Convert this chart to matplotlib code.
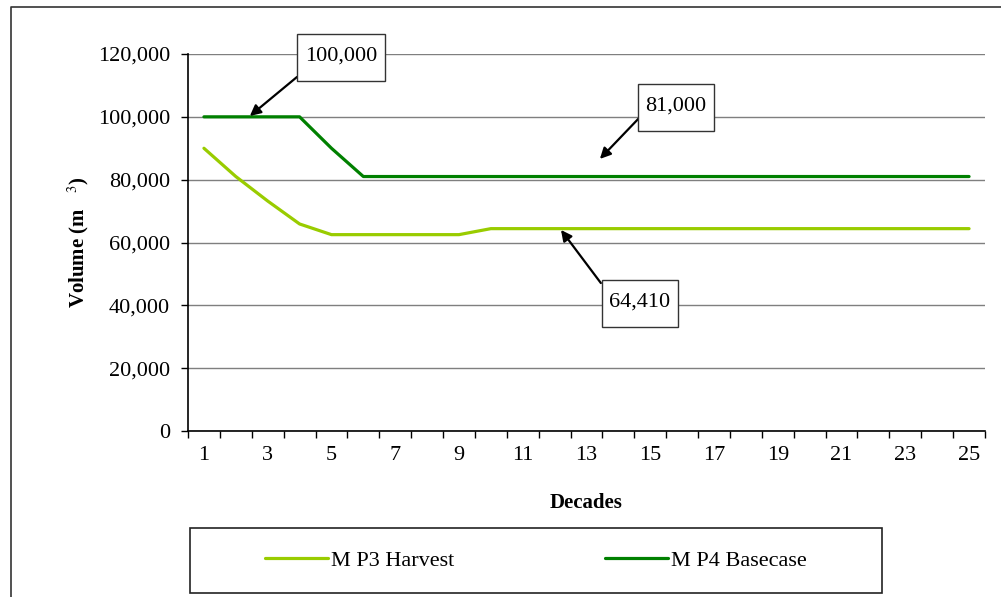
import matplotlib.pyplot as plt
from matplotlib.lines import Line2D
from matplotlib.patches import Rectangle
from matplotlib.path import Path
from matplotlib.ticker import FuncFormatter, MultipleLocator

plt.rcParams['font.family'] = ['Liberation Serif', 'DejaVu Serif']
plt.rcParams['mathtext.fontset'] = 'stix'

decades = list(range(1, 26))
mp3_harvest = [90000, 81000, 73200, 65900, 62500, 62500, 62500, 62500, 62500] + [64410] * 16
mp4_basecase = [100000, 100000, 100000, 100000, 90000] + [81000] * 20

# callouts: label, arrow tip (x, y), arrow tail (x, y), box centre (x, y)
callouts = [
    ('100,000', (2.44, 100270), (3.92, 112700), (5.30, 119300)),
    ('81,000', (13.42, 86600), (14.68, 99950), (15.81, 103500)),
    ('64,410', (12.20, 64000), (13.45, 47100), (14.68, 41200)),
]


def callout_box(x0, y0, width, height, mutation_size):
    # plain rectangle, a bit taller than the text
    padx = 0.35 * mutation_size
    top = 0.55 * mutation_size
    bottom = 0.7 * mutation_size
    x1, y1 = x0 + width + padx, y0 + height + top
    x0, y0 = x0 - padx, y0 - bottom
    return Path([(x0, y0), (x1, y0), (x1, y1), (x0, y1), (x0, y0)], closed=True)


fig = plt.figure(figsize=(10.01, 5.97), dpi=100)
ax = fig.add_axes([188 / 1001, 1 - 431 / 597, 797 / 1001, 377 / 597])

ax.plot(decades, mp3_harvest, color='#99cc00', lw=2.3, solid_capstyle='round',
        label='M P3 Harvest', zorder=3)
ax.plot(decades, mp4_basecase, color='#008000', lw=2.3, solid_capstyle='round',
        label='M P4 Basecase', zorder=3)

ax.set_xlim(0.5, 25.5)
ax.set_ylim(0, 120000)
ax.yaxis.set_major_locator(MultipleLocator(20000))
ax.yaxis.set_major_formatter(FuncFormatter(lambda v, p: f'{int(v):,}'))
ax.set_xticks(decades[::2])
ax.xaxis.set_minor_locator(MultipleLocator(1, offset=0.5))
ax.tick_params(axis='x', which='major', length=0, labelsize=16, pad=11)
ax.tick_params(axis='x', which='minor', length=5, width=1, direction='out')
ax.tick_params(axis='y', length=5, width=1, direction='out', labelsize=16, pad=8)

ax.grid(axis='y', color='#7f7f7f', lw=1)
ax.get_ygridlines()[-1].set_color('#e4e4e4')
ax.set_axisbelow(True)
for side in ('top', 'right'):
    ax.spines[side].set_visible(False)
for side in ('left', 'bottom'):
    ax.spines[side].set_linewidth(1.2)

ax.set_xlabel('Decades', fontsize=15, fontweight='bold', labelpad=20)
ax.set_ylabel('Volume (m   $^{3}$)', fontsize=15, fontweight='bold', labelpad=5)

for label, tip, tail, centre in callouts:
    ax.annotate('', xy=tip, xytext=tail,
                arrowprops=dict(arrowstyle='-|>', color='black', lw=1.6,
                                mutation_scale=16, shrinkA=0, shrinkB=0),
                annotation_clip=False, zorder=5)
    ax.text(centre[0], centre[1], label, fontsize=16, ha='center', va='center',
            zorder=6, clip_on=False,
            bbox=dict(boxstyle=callout_box, fc='white', ec='#333333', lw=1))

# outer chart frame
fig.add_artist(Line2D([11 / 1001, 11 / 1001, 1.0], [0.0, 1 - 7 / 597, 1 - 7 / 597],
                      color='#333333', lw=1.2))

# legend box
fig.add_artist(Rectangle((190 / 1001, 1 - 593 / 597), 692 / 1001, 65 / 597,
                         fill=False, ec='#222222', lw=1.2))
fig.legend(loc='center', bbox_to_anchor=(536 / 1001, 1 - 560.5 / 597), ncol=2,
           frameon=False, fontsize=16, handlelength=2.8, handletextpad=0.15,
           columnspacing=6.8)

fig.savefig('out.png', dpi=100)
